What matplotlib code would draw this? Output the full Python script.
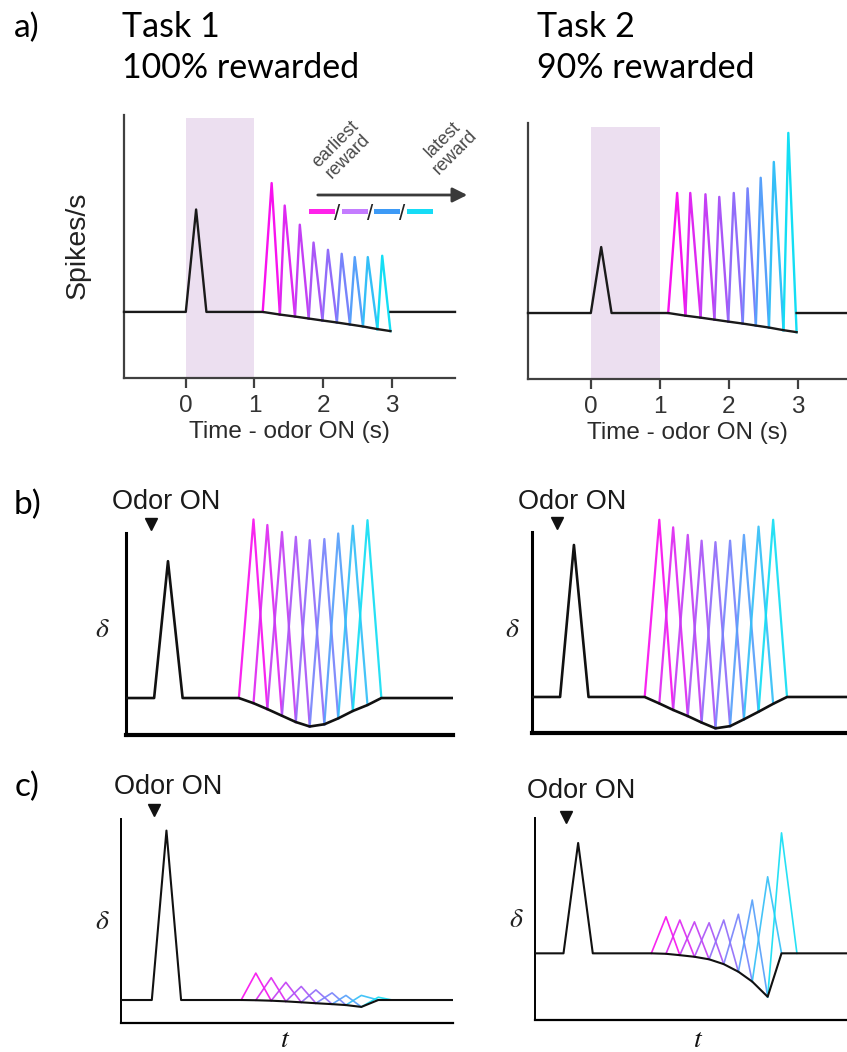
import numpy as np
import matplotlib
matplotlib.use('Agg')
import matplotlib.pyplot as plt
from matplotlib.colors import LinearSegmentedColormap
from matplotlib.lines import Line2D
from matplotlib.patches import FancyArrowPatch

plt.rcParams['mathtext.fontset'] = 'stix'
plt.rcParams['font.family'] = ['Liberation Sans', 'DejaVu Sans']

W, H = 847, 1052

# a) recorded responses, time from odor onset (s), rate in arbitrary units (baseline = 1)
a_trough_t = [1.12, 1.37, 1.59, 1.79, 1.99, 2.20, 2.39, 2.58, 2.79, 2.98]
a_trough_y = [1.00, 0.96, 0.93, 0.90, 0.87, 0.84, 0.81, 0.78, 0.74, 0.71]
a_peak_t = [1.25, 1.44, 1.66, 1.86, 2.07, 2.27, 2.46, 2.65, 2.86]
task1_peaks = [2.95, 2.61, 2.32, 2.05, 1.94, 1.88, 1.83, 1.83, 1.85]
task2_peaks = [2.82, 2.82, 2.80, 2.76, 2.82, 2.89, 3.05, 3.29, 3.73]
a_odor_t = [0.0, 0.15, 0.30]
task1_odor_peak = 2.55
task2_odor_peak = 2.00
a_ticks = [0, 1, 2, 3]

# b) TD error model
b_t = [1.14, 1.33, 1.51, 1.70, 1.88, 2.06, 2.25, 2.43, 2.62, 2.81, 2.99]
b1_trough = [1.0, 0.86, 0.70, 0.52, 0.35, 0.23, 0.29, 0.45, 0.65, 0.81, 1.0]
b1_peaks = [5.83, 5.68, 5.49, 5.36, 5.27, 5.30, 5.45, 5.66, 5.81]
b2_trough = [1.0, 0.82, 0.64, 0.47, 0.29, 0.13, 0.19, 0.38, 0.59, 0.81, 1.0]
b2_peaks = [5.92, 5.71, 5.50, 5.34, 5.30, 5.34, 5.50, 5.73, 5.92]
b_odor_t = [0.04, 0.22, 0.41]
b1_odor_peak = 4.70
b2_odor_peak = 5.22

# c) belief-state model
c1_t = [1.13, 1.32, 1.52, 1.71, 1.91, 2.10, 2.31, 2.49, 2.69, 2.91, 3.09]
c1_trough = [1.0, 0.99, 0.97, 0.94, 0.90, 0.86, 0.82, 0.78, 0.70, 1.0, 1.0]
c1_peaks = [2.17, 1.97, 1.77, 1.59, 1.44, 1.31, 1.20, 1.20, 1.12]
c2_t = [1.11, 1.30, 1.48, 1.67, 1.86, 2.05, 2.24, 2.42, 2.62, 2.80, 3.00]
c2_trough = [2.9, 2.88, 2.82, 2.75, 2.64, 2.43, 2.10, 1.67, 1.01, 2.9, 2.9]
c2_peaks = [4.49, 4.35, 4.27, 4.23, 4.35, 4.60, 5.22, 6.23, 8.14]
c_odor_t = [-0.03, 0.16, 0.35]
c1_odor_peak = 8.37
c2_odor_peak = 7.70

reward_cmap = LinearSegmentedColormap.from_list(
    'reward', ['#f812ee', '#b34ef6', '#6f8afc', '#14def4'])
legend_colors = ['#ff22ea', '#c47cff', '#3d9af6', '#16dcf6']
n_peaks = len(a_peak_t)
peak_colors = [reward_cmap(i / (n_peaks - 1)) for i in range(n_peaks)]

fig = plt.figure(figsize=(W / 100, H / 100), dpi=100)


def add_ax(x0, x1, top, bottom):
    return fig.add_axes([x0 / W, 1 - bottom / H, (x1 - x0) / W, (bottom - top) / H])


def ftext(x, y, s, **kw):
    kw.setdefault('ha', 'center')
    kw.setdefault('va', 'center')
    return fig.text(x / W, 1 - y / H, s, **kw)


def panel_a(ax, peaks, odor_peak, xlim, ylim, shade_top):
    ax.set_xlim(*xlim)
    ax.set_ylim(*ylim)
    ax.axvspan(0, 1, ymax=shade_top, color='#ecdff0', lw=0, zorder=0)
    for i in range(n_peaks):
        ax.plot([a_trough_t[i], a_peak_t[i], a_trough_t[i + 1]],
                [a_trough_y[i], peaks[i], a_trough_y[i + 1]],
                color=peak_colors[i], lw=1.7, zorder=2)
    bx = [xlim[0]] + a_odor_t + a_trough_t + [np.nan, a_trough_t[-1], xlim[1]]
    by = [1, 1, odor_peak, 1] + a_trough_y + [np.nan, 1, 1]
    ax.plot(bx, by, color='#1a1a1a', lw=1.7, zorder=3, clip_on=False)
    for s in ['top', 'right']:
        ax.spines[s].set_visible(False)
    for s in ['left', 'bottom']:
        ax.spines[s].set_color('#404040')
        ax.spines[s].set_linewidth(1.6)
    ax.set_yticks([])
    ax.set_xticks(a_ticks)
    ax.tick_params(axis='x', direction='out', length=7, width=1.6, color='#404040',
                   labelsize=17.5, labelcolor='#333333', pad=5)
    ax.set_xlabel('Time - odor ON (s)', fontsize=17.5, color='#2a2a2a', labelpad=3)


def panel_model(ax, t, trough, peaks, odor_t, odor_peak, base, xlim, ylim, spine_top,
                lw_left, lw_bottom, lw_line, marker_y):
    ax.set_xlim(*xlim)
    ax.set_ylim(*ylim)
    for i in range(n_peaks):
        ax.plot([t[i], t[i + 1], t[i + 2]], [trough[i], peaks[i], trough[i + 2]],
                color=peak_colors[i], lw=lw_line, alpha=0.92, zorder=2)
    bx = [xlim[0]] + odor_t + t + [xlim[1]]
    by = [base, base, odor_peak, base] + trough + [base]
    ax.plot(bx, by, color='#111111', lw=lw_line + 0.3, zorder=3)
    for s in ['top', 'right']:
        ax.spines[s].set_visible(False)
    ax.spines['left'].set_linewidth(lw_left)
    ax.spines['bottom'].set_linewidth(lw_bottom)
    ax.spines['left'].set_bounds(0, spine_top)
    ax.set_xticks([])
    ax.set_yticks([])
    ax.plot([0], [marker_y], marker='v', ms=9, color='#111111', clip_on=False)


# ---- a) ----
ax_a1 = add_ax(124, 455, 115, 378)
panel_a(ax_a1, task1_peaks, task1_odor_peak, (-0.90, 3.92), (0, 3.98), 0.989)
ax_a2 = add_ax(528, 847, 123, 379)
panel_a(ax_a2, task2_peaks, task2_odor_peak, (-0.91, 3.71), (0, 3.88), 0.984)

ftext(78, 245, 'Spikes/s', rotation=90, fontsize=20.5, color='#222222')

title_font = ['Lato', 'DejaVu Sans']
ftext(122, 11, 'Task 1\n100% rewarded', ha='left', va='top', fontsize=24.5,
      family=title_font, linespacing=1.36)
ftext(537, 11, 'Task 2\n90% rewarded', ha='left', va='top', fontsize=24.5,
      family=title_font, linespacing=1.36)
ftext(27, 28, 'a)', fontsize=24, family=title_font)
ftext(27, 505, 'b)', fontsize=24, family=title_font)
ftext(27, 787, 'c)', fontsize=24, family=title_font)

# legend for reward timing
fig.add_artist(FancyArrowPatch(
    (315 / W, 1 - 195 / H), (470 / W, 1 - 195 / H), transform=fig.transFigure,
    arrowstyle='-|>', mutation_scale=22, lw=2.0, color='#3a3a3a'))
ftext(342, 150, 'earliest\nreward', rotation=45, fontsize=13, color='#4a4a4a',
      linespacing=1.05)
ftext(449, 146, 'latest\nreward', rotation=45, fontsize=13, color='#4a4a4a',
      linespacing=1.05)
dash_x0, dash_len, dash_step = 311, 21, 32.5
for k, c in enumerate(legend_colors):
    x0 = dash_x0 + k * dash_step
    fig.add_artist(Line2D([x0 / W, (x0 + dash_len) / W], [1 - 211 / H, 1 - 211 / H],
                          transform=fig.transFigure, color=c, lw=3.6))
    if k < 3:
        ftext(x0 + dash_len + 5.5, 214, '/', fontsize=16, color='#222222')

# ---- b) ----
ax_b1 = add_ax(126, 453, 505, 735)
panel_model(ax_b1, b_t, b1_trough, b1_peaks, b_odor_t, b1_odor_peak, 1.0,
            (-0.325, 3.92), (0, 6.22), 5.46, 2.2, 3.0, 1.6, 5.70)
ax_b2 = add_ax(532, 847, 505, 733)
panel_model(ax_b2, b_t, b2_trough, b2_peaks, b_odor_t, b2_odor_peak, 1.0,
            (-0.325, 3.77), (0, 6.33), 5.58, 2.2, 3.0, 1.6, 5.83)

# ---- c) ----
ax_c1 = add_ax(121, 453, 800, 1023)
panel_model(ax_c1, c1_t, c1_trough, c1_peaks, c_odor_t, c1_odor_peak, 1.0,
            (-0.43, 3.88), (0, 9.7), 8.87, 1.4, 1.6, 1.2, 9.26)
ax_c2 = add_ax(535, 847, 800, 1020)
panel_model(ax_c2, c2_t, c2_trough, c2_peaks, c_odor_t, c2_odor_peak, 2.9,
            (-0.40, 3.65), (0, 9.57), 8.78, 1.4, 1.6, 1.2, 8.83)

for x, y in [(166, 502), (572, 502), (168, 787), (581, 791)]:
    ftext(x, y, 'Odor ON', fontsize=19.5, color='#1a1a1a')
for x, y in [(102, 630), (512, 630), (102, 922), (516, 920)]:
    ftext(x, y, r'$\delta$', fontsize=20, color='#222222')
for x, y in [(285, 1040), (698, 1040)]:
    ftext(x, y, r'$t$', fontsize=20, color='#111111')

fig.savefig('out.png', dpi=100)
